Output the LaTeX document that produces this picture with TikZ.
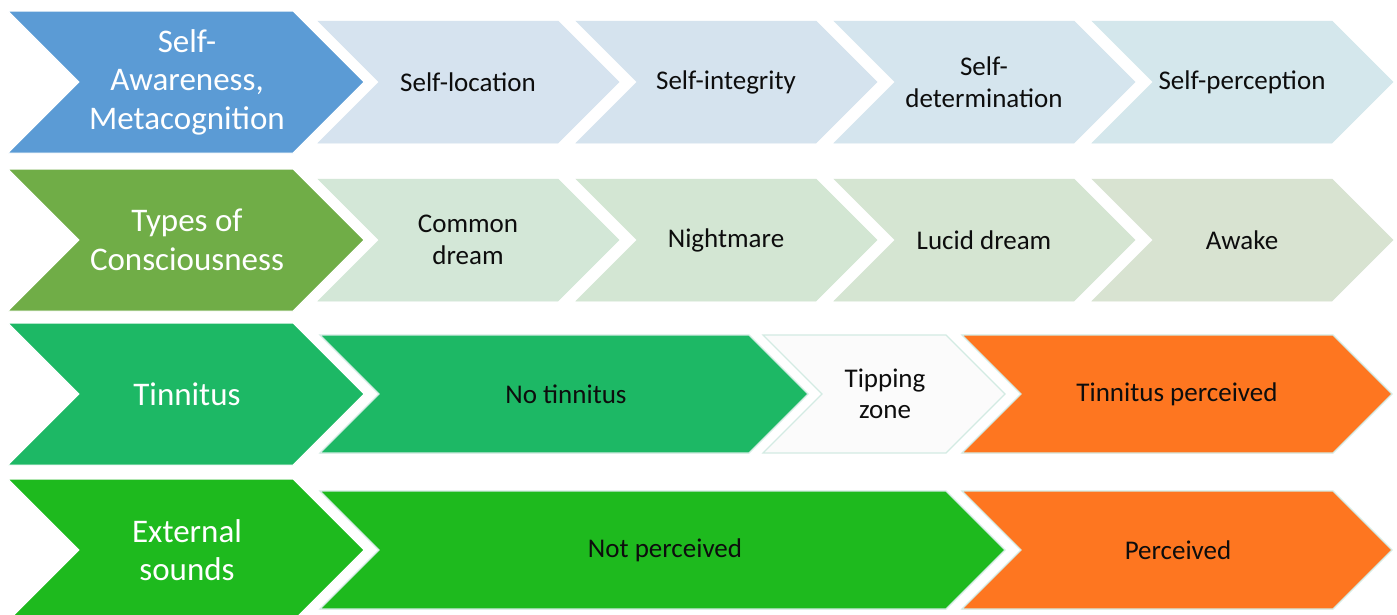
\documentclass[tikz,border=0pt]{standalone}
\usepackage{fontspec}
\setmainfont{Carlito}
\definecolor{bigA}{HTML}{5B9BD5}
\definecolor{bigB}{HTML}{70AD47}
\definecolor{bigC}{HTML}{1DB865}
\definecolor{bigD}{HTML}{1EBA1E}
\definecolor{la1}{HTML}{D6E3EF}
\definecolor{la2}{HTML}{D5E3EE}
\definecolor{la3}{HTML}{D5E5EE}
\definecolor{la4}{HTML}{D4E7EC}
\definecolor{lb1}{HTML}{D3E7D7}
\definecolor{lb2}{HTML}{D3E6D3}
\definecolor{lb3}{HTML}{D5E5D2}
\definecolor{lb4}{HTML}{D8E3D1}
\definecolor{orng}{HTML}{FE7620}
\definecolor{tipfill}{HTML}{FBFBFB}
\definecolor{edgec}{HTML}{D3EBE3}
\definecolor{txt}{HTML}{0D0D0D}
\newcommand\chevshape[5]{%
  \pgfmathsetmacro\hh{(#4-#3)/2}%
  \pgfmathsetmacro\mm{(#4+#3)/2}%
  \path[#5] (#1,#3) -- (#2,#3) -- ({#2+\hh},\mm) -- (#2,#4) -- (#1,#4) -- ({#1+\hh},\mm) -- cycle;}
\tikzset{
  bigtext/.style={text=white, align=center, font=\fontsize{33}{38.5}\selectfont, inner sep=0pt},
  smalltext/.style={text=txt, align=center, font=\fontsize{27}{31.5}\selectfont, inner sep=0pt},
  bigshape/.style={fill=#1, draw=white, line width=1pt},
  smallshape/.style={fill=#1, draw=#1, line width=0.5pt},
  gapshape/.style={fill=#1, draw=edgec, line width=1.2pt}
}
\begin{document}
\begin{tikzpicture}[x=1pt,y=-1pt]
\clip (0,0) rectangle (1397,614);
\fill[white] (0,0) rectangle (1397,614);
% Row 1
\chevshape{8}{293}{11}{153}{bigshape=bigA}
\chevshape{318}{558}{21}{143}{smallshape=la1}
\chevshape{576}{816}{21}{143}{smallshape=la2}
\chevshape{834}{1074}{21}{143}{smallshape=la3}
\chevshape{1092}{1332}{21}{143}{smallshape=la4}
\node[bigtext] (r1) at (187,82) {Self-\\Awareness,\\Metacognition};
\node[smalltext] (r1a) at (468,82) {Self-location};
\node[smalltext] (r1b) at (726,82) {Self-integrity};
\node[smalltext] (r1c) at (984,82) {Self-\\determination};
\node[smalltext] (r1d) at (1242,82) {Self-perception};
% Row 2
\chevshape{8}{293}{169}{311}{bigshape=bigB}
\chevshape{318}{558}{179}{301}{smallshape=lb1}
\chevshape{576}{816}{179}{301}{smallshape=lb2}
\chevshape{834}{1074}{179}{301}{smallshape=lb3}
\chevshape{1092}{1332}{179}{301}{smallshape=lb4}
\node[bigtext] (r2) at (187,240) {Types of\\Consciousness};
\node[smalltext] (r2a) at (468,240) {Common\\dream};
\node[smalltext] (r2b) at (726,240) {Nightmare};
\node[smalltext] (r2c) at (984,240) {Lucid dream};
\node[smalltext] (r2d) at (1242,240) {Awake};
% Row 3
\chevshape{8}{293}{323}{465}{bigshape=bigC}
\chevshape{320}{749}{335}{453}{gapshape=bigC}
\chevshape{763}{946}{335}{453}{gapshape=tipfill}
\chevshape{962}{1333}{335}{453}{gapshape=orng}
\node[bigtext] (r3) at (187,394) {Tinnitus};
\node[smalltext] (r3a) at (566,394) {No tinnitus};
\node[smalltext] (r3b) at (885,394) {Tipping\\zone};
\node[smalltext] (r3c) at (1177,394) {Tinnitus perceived};
% Row 4
\chevshape{8}{293}{479}{621}{bigshape=bigD}
\chevshape{320}{946}{491}{609}{gapshape=bigD}
\chevshape{962}{1333}{491}{609}{gapshape=orng}
\node[bigtext] (r4) at (187,550) {External\\sounds};
\node[smalltext] (r4a) at (665,550) {Not perceived};
\node[smalltext] (r4b) at (1178,550) {Perceived};
\end{tikzpicture}
\end{document}
